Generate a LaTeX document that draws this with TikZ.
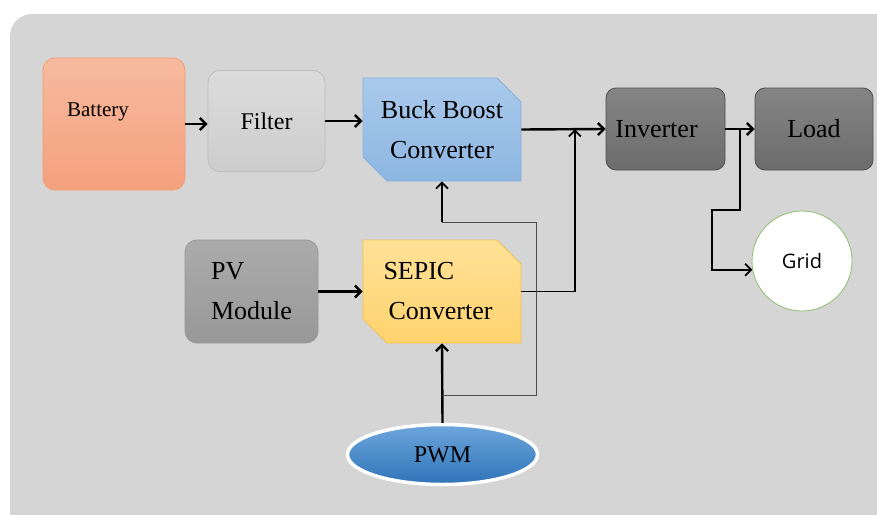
\documentclass[tikz,border=0pt]{standalone}
\usepackage{fontspec}
\setmainfont{Liberation Serif}
\newfontfamily\gridfont{Open Sans}
\usetikzlibrary{arrows.meta, positioning, shapes.misc, shapes.geometric, calc}

\definecolor{panelgray}{HTML}{D5D5D5}
\definecolor{battop}{HTML}{F7BA9F}
\definecolor{batbot}{HTML}{F4A07D}
\definecolor{batline}{HTML}{EFA06E}
\definecolor{filtop}{HTML}{DCDCDC}
\definecolor{filbot}{HTML}{CDCDCD}
\definecolor{filline}{HTML}{BDBDBD}
\definecolor{bucktop}{HTML}{A9CAEB}
\definecolor{buckbot}{HTML}{8DB6E2}
\definecolor{buckline}{HTML}{84B1E0}
\definecolor{darktop}{HTML}{858585}
\definecolor{darkbot}{HTML}{6C6C6C}
\definecolor{darkline}{HTML}{4F4F4F}
\definecolor{pvtop}{HTML}{ABABAB}
\definecolor{pvbot}{HTML}{989898}
\definecolor{septop}{HTML}{FFE197}
\definecolor{sepbot}{HTML}{FFD36E}
\definecolor{sepline}{HTML}{F0C04C}
\definecolor{pwmtop}{HTML}{6DA6DC}
\definecolor{pwmbot}{HTML}{2F74B8}
\definecolor{gridline}{HTML}{8CBF6E}

\begin{document}
\begin{tikzpicture}[
		x=1pt, y=-1pt,
		>={Straight Barb[length=6pt,width=12pt]},
		font=\fontsize{26}{40}\selectfont,
		block/.style={draw, rounded corners=12pt, line width=0.8pt, align=left, inner sep=4pt},
		snipbox/.style={chamfered rectangle, chamfered rectangle corners={north east,south west},
			chamfered rectangle sep=12pt, draw, line width=0.8pt, align=left,
			minimum width=158pt, minimum height=103pt},
		flow/.style={->, line width=2.4pt},
		wire/.style={line width=1.8pt},
		fbline/.style={line width=0.9pt, draw=black!70}
		]
		\useasboundingbox (0,0) rectangle (877,514);
		
		% =========================================================
		% 1. Background panel
		% =========================================================
		\fill[panelgray, rounded corners=22pt] (10,14) rectangle (910,550);
		
		% =========================================================
		% 2. Upper chain: battery, filter, converter, inverter, load
		% =========================================================
		\node[block, top color=battop, bottom color=batbot, draw=batline,
			minimum width=142pt, minimum height=132pt,
			label={[xshift=-16pt, yshift=12pt, font=\fontsize{21}{24}\selectfont]center:Battery}] (battery) at (114,124) {};
		\node[block, top color=filtop, bottom color=filbot, draw=filline,
			minimum width=117pt, minimum height=101pt, font=\fontsize{24}{28}\selectfont] (filter) at (266.5,121) {Filter};
		\node[snipbox, top color=bucktop, bottom color=buckbot, draw=buckline, align=center] (buck) at (442,129.5) {Buck Boost\\Converter};
		\node[block, rounded corners=10pt, top color=darktop, bottom color=darkbot, draw=darkline,
			minimum width=119pt, minimum height=82pt] (inverter) at (665.5,129) {Inverter\hspace*{18pt}};
		\node[block, rounded corners=10pt, top color=darktop, bottom color=darkbot, draw=darkline,
			minimum width=118pt, minimum height=82pt] (load) at (814,129) {Load};
		\node[circle, draw=gridline, fill=white, line width=0.8pt, minimum size=100pt,
			font=\gridfont\fontsize{20}{24}\selectfont] (grid) at (802,261) {Grid};
		
		% =========================================================
		% 3. Lower chain: PV module, SEPIC, PWM
		% =========================================================
		\node[block, top color=pvtop, bottom color=pvbot, draw=pvbot,
			minimum width=133pt, minimum height=103pt] (pv) at (251.5,291.5) {PV\\Module};
		\node[snipbox, top color=septop, bottom color=sepbot, draw=sepline] (sepic) at (442,291.5) {SEPIC\\\hspace*{5pt}Converter\hspace*{8pt}};
		\node[ellipse, draw=white, line width=3.5pt, top color=pwmtop, bottom color=pwmbot,
			minimum width=190pt, minimum height=60pt, font=\fontsize{24}{28}\selectfont] (pwm) at (442.5,454.5) {PWM};
		
		% =========================================================
		% 4. Connectors
		% =========================================================
		\coordinate (join) at ($(buck.east)!0.635!(inverter.west)$);
		\coordinate (split) at ($(inverter.east)!0.5!(load.west)$);
		\coordinate (tap) at ($(pwm.north)!0.35!(sepic.south)$);
		\coordinate (fbtop) at ($(buck.south)+(0,41)$);
		
		\draw[flow] (battery.east) -- (battery.east -| filter.west);
		\draw[flow] (filter.east) -- (filter.east -| buck.west);
		\draw[flow] (buck.east) -- (inverter.west);
		\draw[flow] (inverter.east) -- (load.west);
		\draw[flow] (pv.east) -- (sepic.west);
		\draw[flow] (pwm.north) -- (sepic.south);
		\draw[wire, ->] (sepic.east) -| (join);
		\draw[wire, ->] (split) -- ++(0,81) -- ++(-28,0) |- (grid.190);
		
		% feedback from PWM to the buck boost converter
		\draw[fbline] (tap) -- ++(94,0) |- (fbtop);
		\draw[wire, ->] (fbtop) -- (buck.south);
	\end{tikzpicture}
\end{document}
